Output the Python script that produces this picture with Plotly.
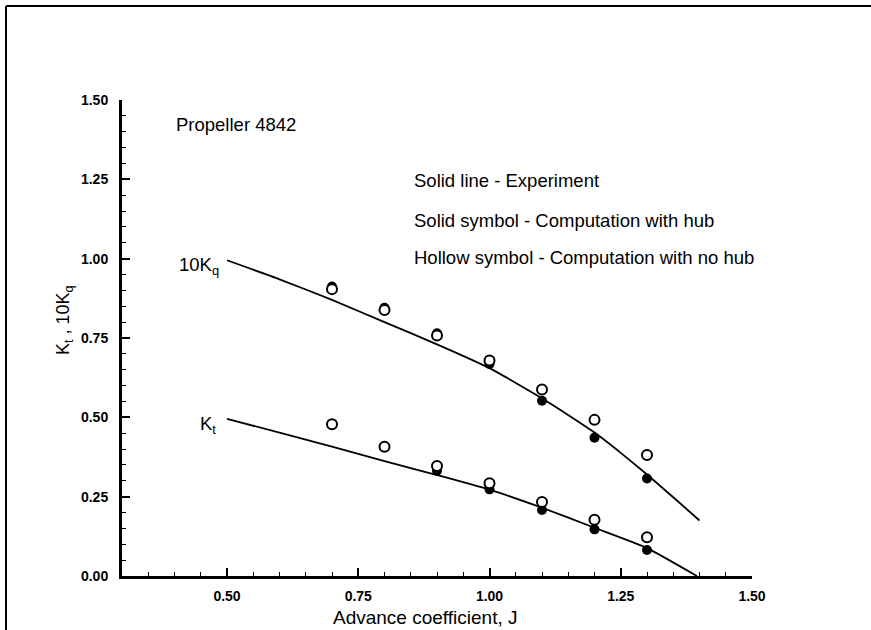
import plotly.graph_objects as go

# Experimental curves (solid lines)
j_line_q = [0.5, 0.6, 0.7, 0.8, 0.9, 1.0, 1.1, 1.2, 1.25, 1.3, 1.35, 1.4]
kq10_line = [0.995, 0.935, 0.87, 0.80, 0.73, 0.655, 0.56, 0.452, 0.388, 0.32, 0.248, 0.175]
j_line_t = [0.5, 0.6, 0.7, 0.8, 0.9, 1.0, 1.1, 1.2, 1.3, 1.395]
kt_line = [0.495, 0.452, 0.408, 0.362, 0.318, 0.272, 0.215, 0.152, 0.088, 0.0]

# Computations
j_pts = [0.7, 0.8, 0.9, 1.0, 1.1, 1.2, 1.3]
kq10_nohub = [0.904, 0.838, 0.758, 0.679, 0.588, 0.492, 0.381]
kq10_hub = [0.912, 0.845, 0.765, 0.668, 0.552, 0.436, 0.307]
kt_nohub = [0.478, 0.407, 0.347, 0.292, 0.233, 0.177, 0.122]
j_kt_hub = [0.9, 1.0, 1.1, 1.2, 1.3]
kt_hub = [0.332, 0.273, 0.208, 0.147, 0.082]

FONT = "Liberation Sans, Arial, sans-serif"
L, R, T, B = 122, 119, 100, 54
W, H = 871, 630
PW, PH = W - L - R, H - T - B

def px(x):
    return (x - L) / PW

def py(y):
    return (H - B - y) / PH

fig = go.Figure()
for jx, yv in [(j_line_q, kq10_line), (j_line_t, kt_line)]:
    fig.add_trace(go.Scatter(x=jx, y=yv, mode="lines",
                             line=dict(color="black", width=1.8, shape="spline", smoothing=0.5),
                             hoverinfo="skip"))
for jx, yv in [(j_pts, kq10_hub), (j_kt_hub, kt_hub)]:
    fig.add_trace(go.Scatter(x=jx, y=yv, mode="markers",
                             marker=dict(symbol="circle", size=10, color="black"),
                             hoverinfo="skip"))
for jx, yv in [(j_pts, kq10_nohub), (j_pts, kt_nohub)]:
    fig.add_trace(go.Scatter(x=jx, y=yv, mode="markers",
                             marker=dict(symbol="circle", size=10, color="white",
                                         line=dict(color="black", width=2)),
                             hoverinfo="skip"))

axis_common = dict(
    showgrid=False, zeroline=False, showline=True, linecolor="black", linewidth=3,
    ticks="inside", ticklen=8, tickwidth=1.5, tickcolor="black",
    tickfont=dict(family=FONT, size=14, color="black", weight="bold"),
    minor=dict(dtick=0.05, ticks="inside", ticklen=4, tickwidth=1, tickcolor="black"),
    dtick=0.25, tickformat=".2f", fixedrange=True,
)
fig.update_xaxes(range=[0.3, 1.5], tick0=0, ticklabelstandoff=5, **axis_common)
fig.update_yaxes(range=[0, 1.5], tick0=0, ticklabelstandoff=8, **axis_common)

def ann(text, x, y, size=18.5, xanchor="left", textangle=0):
    fig.add_annotation(text=text, x=px(x), y=py(y), xref="paper", yref="paper",
                       xanchor=xanchor, yanchor="middle", showarrow=False,
                       textangle=textangle,
                       font=dict(family=FONT, size=size, color="black"))

ann("Propeller 4842", 174, 124)
ann("Solid line - Experiment", 412, 181)
ann("Solid symbol - Computation with hub", 412, 220)
ann("Hollow symbol - Computation with no hub", 412, 257)
ann("10K<sub>q</sub>", 221, 266, xanchor="right")
ann("K<sub>t</sub>", 218, 425, xanchor="right")
ann("Advance coefficient, J", 425, 617, size=19, xanchor="center")
ann("K<sub>t</sub> , 10K<sub>q</sub>", 64, 320, size=18, xanchor="center", textangle=-90)

# page border (top and left)
fig.add_shape(type="line", xref="paper", yref="paper", x0=px(6), x1=px(871), y0=py(6), y1=py(6),
              line=dict(color="black", width=2))
fig.add_shape(type="line", xref="paper", yref="paper", x0=px(6), x1=px(6), y0=py(6), y1=py(630),
              line=dict(color="black", width=2))

fig.update_layout(width=W, height=H, margin=dict(l=L, r=R, t=T, b=B),
                  paper_bgcolor="white", plot_bgcolor="white", showlegend=False)

fig.write_html("out.html", config={"displayModeBar": False})
